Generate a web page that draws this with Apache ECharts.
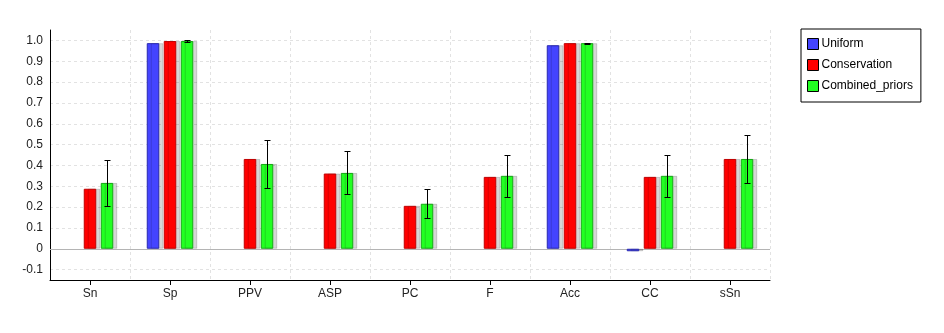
<!DOCTYPE html>
<html>
<head>
<meta charset="utf-8">
<script src="https://cdn.jsdelivr.net/npm/echarts@6/dist/echarts.min.js"></script>
<style>html,body{margin:0;padding:0;background:#fff;}#c{width:944px;height:333px;}</style>
</head>
<body>
<div id="c"></div>
<script>
const categories = ['Sn','Sp','PPV','ASP','PC','F','Acc','CC','sSn'];
const uniform = [null, 0.987, null, null, null, null, 0.977, -0.012, null];
const conservation = [0.288, 0.997, 0.431, 0.361, 0.206, 0.345, 0.987, 0.345, 0.431];
const combinedPriors = [0.316, 0.997, 0.407, 0.364, 0.216, 0.350, 0.987, 0.350, 0.431];
const combinedErr = [0.112, 0.003, 0.115, 0.103, 0.070, 0.100, 0.002, 0.100, 0.117];
const yTicks = [-0.1, 0, 0.1, 0.2, 0.3, 0.4, 0.5, 0.6, 0.7, 0.8, 0.9, 1.0];

const BAR_W = 12.5, BAR_STEP = 17;
const FONT = 'Liberation Sans, Arial, sans-serif';

const shadow = {shadowColor:'rgba(0,0,0,0.16)', shadowOffsetX:4, shadowOffsetY:0, shadowBlur:0};
function barSeries(name, data, fill, border){
  return {
    name, type:'bar', data, barWidth:BAR_W, barGap:'36%',
    itemStyle: Object.assign({color:fill, borderColor:border, borderWidth:1}, shadow),
    emphasis:{disabled:true}
  };
}

const errData = combinedPriors.map((v,i)=>[i, v - combinedErr[i], v + combinedErr[i]]);

const chart = echarts.init(document.getElementById('c'), null, {renderer:'canvas'});
chart.setOption({
  animation:false,
  backgroundColor:'#fff',
  textStyle:{fontFamily:FONT},
  grid:{left:50, right:174, top:30, bottom:53, containLabel:false},
  legend:{
    data:['Uniform','Conservation','Combined_priors'],
    orient:'vertical', left:801, top:29,
    itemWidth:11, itemHeight:11, itemGap:9,
    padding:[9,8,10,6],
    borderColor:'#000', borderWidth:1,
    icon:'rect',
    itemStyle:{borderColor:'#000', borderWidth:1, shadowBlur:0, shadowOffsetX:0, shadowOffsetY:0, shadowColor:'transparent'},
    textStyle:{fontFamily:FONT, fontSize:12, color:'#000', padding:[0,0,0,-2]},
    selectedMode:false
  },
  xAxis:{
    type:'category', data:categories,
    axisLine:{onZero:false, lineStyle:{color:'#000', width:1}},
    axisTick:{show:true, alignWithLabel:true, length:5, lineStyle:{color:'#000'}},
    axisLabel:{color:'#222', fontSize:12, fontFamily:FONT, margin:8},
    splitLine:{show:true, lineStyle:{color:'#e2e2e2', type:[3,3]}}
  },
  yAxis:{
    type:'value', min:-0.15, max:1.05,
    axisLine:{show:true, lineStyle:{color:'#000', width:1}},
    axisTick:{show:false, customValues:yTicks},
    axisLabel:{color:'#222', fontSize:12, fontFamily:FONT, margin:7, customValues:yTicks,
      formatter:v=> Math.abs(v)<1e-9 ? '0' : v.toFixed(1)},
    splitLine:{show:true, lineStyle:{color:'#e2e2e2', type:[3,3]}}
  },
  series:[
    Object.assign(barSeries('Uniform', uniform, '#4444ff', '#2a2ab0'), {
      markLine:{silent:true, symbol:['none','none'], label:{show:false},
        lineStyle:{color:'#b4b4b4', type:'solid', width:1}, data:[{yAxis:0}], z:1}
    }),
    barSeries('Conservation', conservation, '#ff0000', '#c00000'),
    barSeries('Combined_priors', combinedPriors, '#22ff22', '#14a814'),
    {
      name:'err', type:'custom', data:errData, z:10, silent:true,
      renderItem:(params, api)=>{
        const i = api.value(0);
        const lo = api.coord([i, api.value(1)]);
        const hi = api.coord([i, api.value(2)]);
        const x = Math.round(lo[0] + BAR_STEP) + 0.5;
        const y1 = Math.round(lo[1]) + 0.5, y2 = Math.round(hi[1]) + 0.5;
        const st = {stroke:'#000', lineWidth:1};
        return {type:'group', children:[
          {type:'line', shape:{x1:x, y1:y1, x2:x, y2:y2}, style:st},
          {type:'line', shape:{x1:x-3, y1:y1, x2:x+3, y2:y1}, style:st},
          {type:'line', shape:{x1:x-3, y1:y2, x2:x+3, y2:y2}, style:st}
        ]};
      }
    }
  ]
});
</script>
</body>
</html>
